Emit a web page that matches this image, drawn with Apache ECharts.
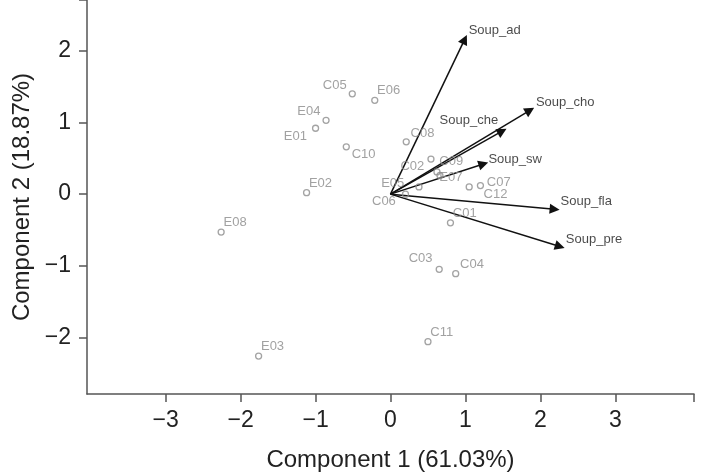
<!DOCTYPE html>
<html>
<head>
<meta charset="utf-8">
<script src="https://cdn.jsdelivr.net/npm/echarts@6/dist/echarts.min.js"></script>
<style>
html, body { margin: 0; padding: 0; background: #fff; }
#main { width: 705px; height: 473px; }
</style>
</head>
<body>
<div id="main"></div>
<script>
// sample scores
var sampleNames = ['C01','C02','C03','C04','C05','C06','C07','C08','C09','C10','C11','C12',
                   'E01','E02','E03','E04','E05','E06','E07','E08'];
var pc1 = [0.80, 0.54, 0.65, 0.87, -0.51, 0.20, 1.20, 0.21, 0.62, -0.59, 0.50, 1.05,
           -1.00, -1.12, -1.76, -0.86, 0.38, -0.21, 0.66, -2.26];
var pc2 = [-0.40, 0.49, -1.05, -1.11, 1.40, 0.00, 0.12, 0.73, 0.31, 0.66, -2.06, 0.10,
           0.92, 0.02, -2.26, 1.03, 0.10, 1.31, 0.26, -0.53];

// variable loadings (arrows)
var loadingNames = ['Soup_ad', 'Soup_cho', 'Soup_che', 'Soup_sw', 'Soup_fla', 'Soup_pre'];
var loadX = [0.99, 1.86, 1.49, 1.24, 2.19, 2.26];
var loadY = [2.16, 1.17, 0.88, 0.42, -0.21, -0.73];

var xTicks = [-3, -2, -1, 0, 1, 2, 3];
var yTicks = [-2, -1, 0, 1, 2];

var xMin = -4.05, xMax = 4.05;
var yMin = -2.79, yMax = 2.71;

// label placement (align, dx, dy) relative to point, pixels
var sampleLabelPos = {
    C05: ['right', -5, -8], E04: ['right', -5, -8], E01: ['right', -8, 9],
    C10: ['left', 6, 8], C08: ['left', 5, -8], C02: ['right', -6, 8],
    C09: ['left', 3, -10], E07: ['left', 0, 3], E05: ['right', -14, -3],
    C06: ['right', -9, 8], C07: ['left', 7, -2], C12: ['left', 15, 8],
    C03: ['right', -6, -10], C04: ['left', 5, -9]
};
var loadLabelPos = {
    Soup_ad: ['left', 4, -9], Soup_cho: ['left', 6, -8], Soup_che: ['right', -4, -11],
    Soup_sw: ['left', 5, -5], Soup_fla: ['left', 6, -8], Soup_pre: ['left', 6, -7]
};

var R = 3;
var sampleData = sampleNames.map(function(n, i) {
    var p = sampleLabelPos[n] || ['left', 3, -9];
    return {
        name: n,
        value: [pc1[i], pc2[i]],
        label: { align: p[0], position: [p[1] + R, p[2] + R] }
    };
});

var arrowData = loadingNames.map(function(n, i) {
    return { name: n, coords: [[0, 0], [loadX[i], loadY[i]]] };
});
var tipData = loadingNames.map(function(n, i) {
    var p = loadLabelPos[n];
    return {
        name: n,
        value: [loadX[i], loadY[i]],
        label: { align: p[0], position: [p[1], p[2]] }
    };
});

function fmt(v) {
    return v < 0 ? '\u2212' + Math.abs(v) : String(v);
}

var font = '"Liberation Sans", Arial, sans-serif';
var axisColor = '#555';

var chart = echarts.init(document.getElementById('main'));
var option = {
    animation: false,
    grid: {
        left: 87,
        right: 11,
        top: 0,
        bottom: 79,
        outerBoundsMode: 'none'
    },
    xAxis: {
        type: 'value',
        min: xMin,
        max: xMax,
        name: 'Component 1 (61.03%)',
        nameLocation: 'middle',
        nameGap: 54,
        nameTextStyle: { fontFamily: font, fontSize: 24, color: '#222' },
        axisLine: { onZero: false, lineStyle: { color: axisColor, width: 1.5 } },
        axisTick: {
            customValues: xTicks.concat([xMax]),
            length: 8,
            lineStyle: { color: axisColor, width: 1.5 }
        },
        axisLabel: {
            customValues: xTicks,
            formatter: fmt,
            margin: 15,
            fontFamily: font,
            fontSize: 23,
            color: '#222'
        },
        splitLine: { show: false }
    },
    yAxis: {
        type: 'value',
        min: yMin,
        max: yMax,
        name: 'Component 2 (18.87%)',
        nameLocation: 'middle',
        nameGap: 52,
        nameTextStyle: { fontFamily: font, fontSize: 24, color: '#222' },
        axisLine: { onZero: false, lineStyle: { color: axisColor, width: 1.5 } },
        axisTick: {
            customValues: yTicks.concat([yMax]),
            length: 8,
            lineStyle: { color: axisColor, width: 1.5 }
        },
        axisLabel: {
            customValues: yTicks,
            formatter: fmt,
            margin: 16,
            fontFamily: font,
            fontSize: 23,
            color: '#222'
        },
        splitLine: { show: false }
    },
    series: [
        {
            type: 'scatter',
            symbol: 'circle',
            symbolSize: R * 2,
            itemStyle: {
                color: 'rgba(255,255,255,0)',
                borderColor: '#8c8c8c',
                borderWidth: 1.3
            },
            label: {
                show: true,
                formatter: '{b}',
                verticalAlign: 'middle',
                fontFamily: font,
                fontSize: 13,
                color: '#8a8a8a'
            },
            emphasis: { disabled: true },
            data: sampleData
        },
        {
            type: 'lines',
            coordinateSystem: 'cartesian2d',
            symbol: ['none', 'triangle'],
            symbolSize: 10,
            lineStyle: { color: '#111', width: 1.5, opacity: 1, curveness: 0 },
            emphasis: { disabled: true },
            data: arrowData
        },
        {
            type: 'scatter',
            symbolSize: 0,
            label: {
                show: true,
                formatter: '{b}',
                verticalAlign: 'middle',
                fontFamily: font,
                fontSize: 13,
                color: '#1a1a1a'
            },
            emphasis: { disabled: true },
            data: tipData
        }
    ]
};
chart.setOption(option);
</script>
</body>
</html>
